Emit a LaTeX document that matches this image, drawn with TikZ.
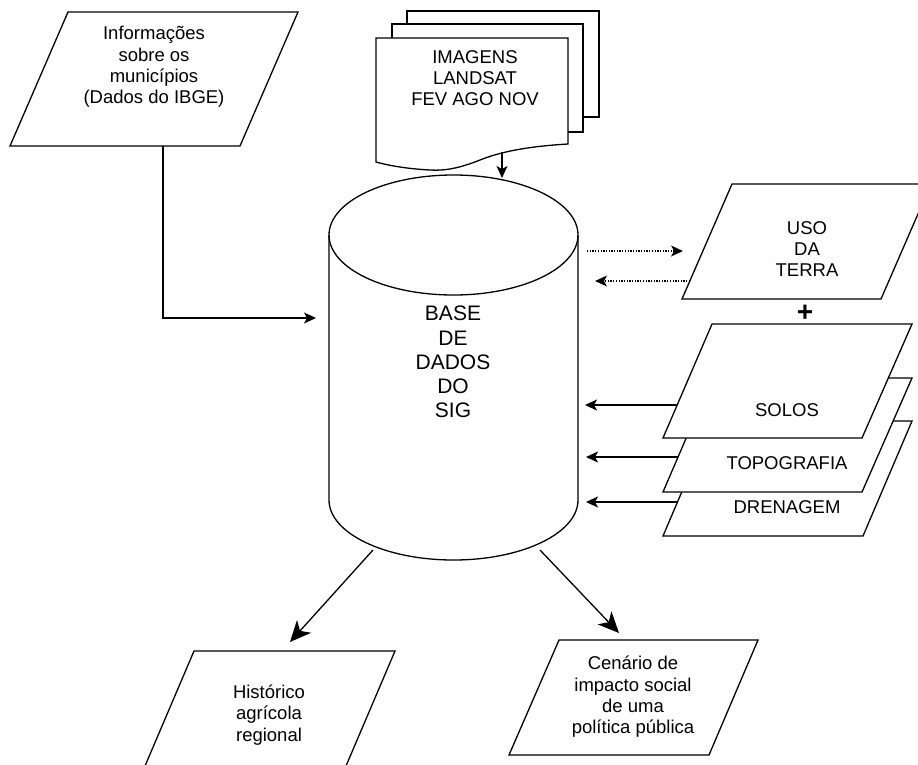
\documentclass[tikz,border=0pt]{standalone}
\usepackage{fontspec}
\setmainfont{Liberation Sans}
\usepackage{tikz}
\usetikzlibrary{arrows.meta,positioning}

\tikzset{
  shp/.style={draw, line width=1.3pt, fill=white, line join=miter},
  txt/.style={align=center, inner sep=0pt, font=\fontsize{18.5}{21.3}\selectfont},
  flow/.style={line width=1.3pt, -{Stealth[length=12pt,width=11pt,inset=3pt]}},
  bigflow/.style={line width=1.3pt, -{Stealth[length=21pt,width=19pt,inset=6pt]}},
  dotflow/.style={line width=1.2pt, dash pattern=on 1.3pt off 1.4pt, -{Stealth[length=12pt,width=11pt,inset=3pt,line width=0pt]}}
}

\begin{document}
\begin{tikzpicture}[x=1pt,y=-1pt]
        \useasboundingbox (0,0) rectangle (918,764);
        \clip (0,0) rectangle (918,764);

        % inputs
        \draw[shp] (68,12) -- (298,12) -- (240,146) -- (10,146) -- cycle;
        \node[txt] (info) at (154,67) {Informações\\sobre os\\municípios\\(Dados do IBGE)};

        \draw[shp] (407,11) rectangle (599,117);
        \draw[shp] (392,24) rectangle (583,132);
        \draw[shp] (376,38) -- (568,38) -- (568,144)
              .. controls (535,146) and (505,150) .. (480,160)
              .. controls (460,168) and (445,171) .. (430,170)
              .. controls (410,169) and (390,166) .. (376,162) -- cycle;
        \node[txt] (docs) at (475,78) {IMAGENS\\LANDSAT\\FEV AGO NOV};

        % banco de dados
        \draw[shp] (329,235) -- (329,500) arc[start angle=180, end angle=360, x radius=124.5pt, y radius=60pt]
              -- (578,235) arc[start angle=0, end angle=180, x radius=124.5pt, y radius=60pt] -- cycle;
        \draw[line width=1.3pt] (329,235) arc[start angle=180, end angle=360, x radius=124.5pt, y radius=60pt];
        \node[txt, font=\fontsize{21}{24.2}\selectfont] (db) at (453,362) {BASE\\DE\\DADOS\\DO\\SIG};

        % camadas
        \draw[shp] (732,184) -- (931,184) -- (881,299) -- (682,299) -- cycle;
        \node[txt] (uso) at (807,249) {USO\\DA\\TERRA};
        \node[font=\fontsize{28}{28}\bfseries, inner sep=0pt] (plus) at (805,313) {+};

        \draw[shp] (712,421) -- (912,421) -- (863,536) -- (663,536) -- cycle;
        \draw[shp] (712,378) -- (912,378) -- (862,492) -- (663,492) -- cycle;
        \draw[shp] (712,324) -- (912,324) -- (862,438) -- (663,438) -- cycle;
        \node[txt] (solos) at (787,410) {SOLOS};
        \node[txt] (topo) at (787,463) {TOPOGRAFIA};
        \node[txt] (dren) at (787,507) {DRENAGEM};

        % saidas
        \draw[shp] (194,651) -- (395,651) -- (346,766) -- (145,766) -- cycle;
        \node[txt] (hist) at (269,715) {Histórico\\agrícola\\regional};
        \draw[shp] (559,640) -- (758,640) -- (709,755) -- (509,755) -- cycle;
        \node[txt] (cen) at (633,697) {Cenário de\\impacto social\\de uma\\política pública};

        \coordinate (info-s) at (163,146);
        \coordinate (db-w) at (316,318);
        \coordinate (docs-s) at (502,152);
        \coordinate (db-n) at (502,178);
        \coordinate (db-sw) at (373,550);
        \coordinate (db-se) at (540,550);
        \coordinate (hist-n) at (290,642);
        \coordinate (cen-n) at (619,633);
        \coordinate (uso-in) at (683,251);
        \coordinate (uso-out) at (690,281);
        \coordinate (solos-w) at (677,405);
        \coordinate (topo-w) at (678,457);
        \coordinate (dren-w) at (678,502);

        \draw[flow] (info-s) |- (db-w);
        \draw[flow] (docs-s) -- (db-n);
        \draw[dotflow] (587,251) -- (uso-in);
        \draw[dotflow] (uso-out) -- (595,281);
        \draw[flow] (solos-w) -- (585,405);
        \draw[flow] (topo-w) -- (586,457);
        \draw[flow] (dren-w) -- (586,502);
        \draw[bigflow] (db-sw) -- (hist-n);
        \draw[bigflow] (db-se) -- (cen-n);
      \end{tikzpicture}
\end{document}
